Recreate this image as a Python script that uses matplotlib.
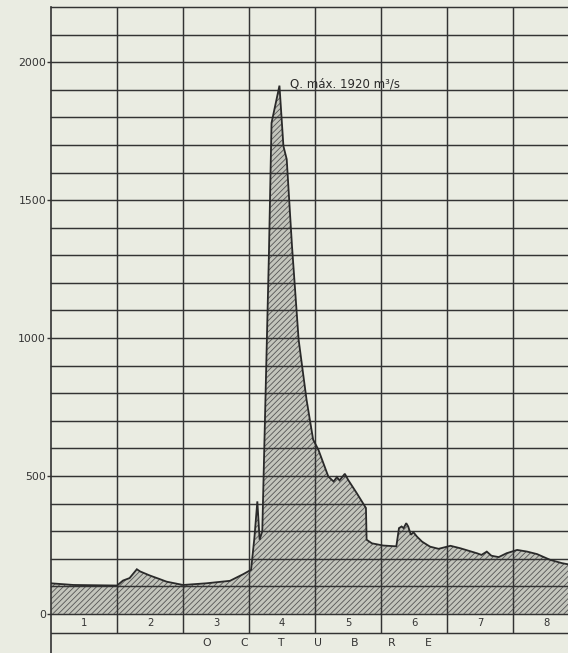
import matplotlib
matplotlib.use("Agg")
import matplotlib.pyplot as plt

# ---- data (days from start of 1 October, discharge m3/s) ----
t_days = [0.00, 0.34, 1.00, 1.09, 1.19, 1.30, 1.35, 1.50, 1.65, 1.75, 2.00, 2.35,
          2.71, 2.91, 3.03, 3.08, 3.125, 3.16, 3.20, 3.25, 3.30, 3.34, 3.46,
          3.52, 3.57, 3.65, 3.75, 3.87, 3.97, 4.05, 4.20, 4.28, 4.33, 4.37,
          4.45, 4.50, 4.63, 4.77, 4.78, 4.86, 5.03, 5.23, 5.27, 5.31, 5.34,
          5.38, 5.41, 5.45, 5.49, 5.54, 5.62, 5.74, 5.87, 6.05, 6.20, 6.45,
          6.52, 6.60, 6.67, 6.78, 6.90, 7.06, 7.21, 7.36, 7.56, 7.74, 7.83]
q_values = [111, 105, 103, 121, 130, 162, 154, 139, 126, 117, 105, 111,
            120, 144, 160, 275, 408, 269, 300, 800, 1300, 1780, 1915,
            1696, 1648, 1333, 995, 777, 632, 595, 498, 480, 496, 484,
            508, 486, 438, 384, 269, 256, 248, 245, 311, 317, 311,
            329, 317, 287, 296, 281, 262, 244, 236, 247, 238, 220,
            214, 226, 211, 206, 220, 232, 226, 217, 196, 184, 180]
day_labels = ["1", "2", "3", "4", "5", "6", "7", "8"]
month_label = "OCTUBRE"
y_ticks = [0, 500, 1000, 1500, 2000]
y_tick_labels = ["0", "500", "1000", "1500", "2000"]
peak_label = "Q. máx. 1920 m³/s"
peak_value = 1920

bg = "#eaece2"
ink = "#333333"

plt.rcParams["hatch.linewidth"] = 0.6
plt.rcParams["hatch.color"] = "#555555"

W, H = 568, 653
fig = plt.figure(figsize=(W / 100, H / 100), dpi=100)
fig.patch.set_facecolor(bg)
ax = fig.add_axes([51 / W, 0, 1 - 51 / W, 1 - 7 / H])
ax.set_facecolor(bg)
ax.set_xlim(0, 7.83)
ax.set_ylim(-141.6, 2200)

# grid
for v in range(0, 2201, 100):
    ax.axhline(v, color=ink, lw=1.05, zorder=3, clip_on=False)
ax.vlines(range(1, 8), -69, 2200, color=ink, lw=1.05, zorder=3)
ax.axhline(-69, color=ink, lw=1.05, zorder=3)

# hydrograph
ax.fill_between(t_days, 0, q_values, facecolor="#c3c5bc", hatch="//////",
                edgecolor="#555555", linewidth=0, zorder=2)
ax.plot(t_days, q_values, color="#2a2a2a", lw=1.3, zorder=4,
        solid_joinstyle="miter")

# spines / ticks
for s in ["top", "right", "bottom"]:
    ax.spines[s].set_visible(False)
ax.spines["left"].set_color(ink)
ax.spines["left"].set_linewidth(1.2)
ax.set_xticks([])
ax.set_yticks(y_ticks)
ax.set_yticklabels(y_tick_labels)
ax.tick_params(axis="y", length=3, width=1.0, color=ink, pad=0.5,
               labelsize=7.8, labelcolor=ink)

# day labels
for i, lab in enumerate(day_labels):
    ax.text(i + 0.5, -34, lab, ha="center", va="center", fontsize=7.2,
            color=ink)

# month label with spaced letters
n = len(month_label)
centre = 4.04
step = 0.56
for i, ch in enumerate(month_label):
    ax.text(centre + (i - (n - 1) / 2) * step, -105, ch, ha="center",
            va="center", fontsize=7.8, color=ink)

# peak annotation
ax.text(3.62, peak_value, peak_label, ha="left", va="center", fontsize=8.5,
        color="#2a2a2a")

fig.savefig("out.png", dpi=100, facecolor=bg)
